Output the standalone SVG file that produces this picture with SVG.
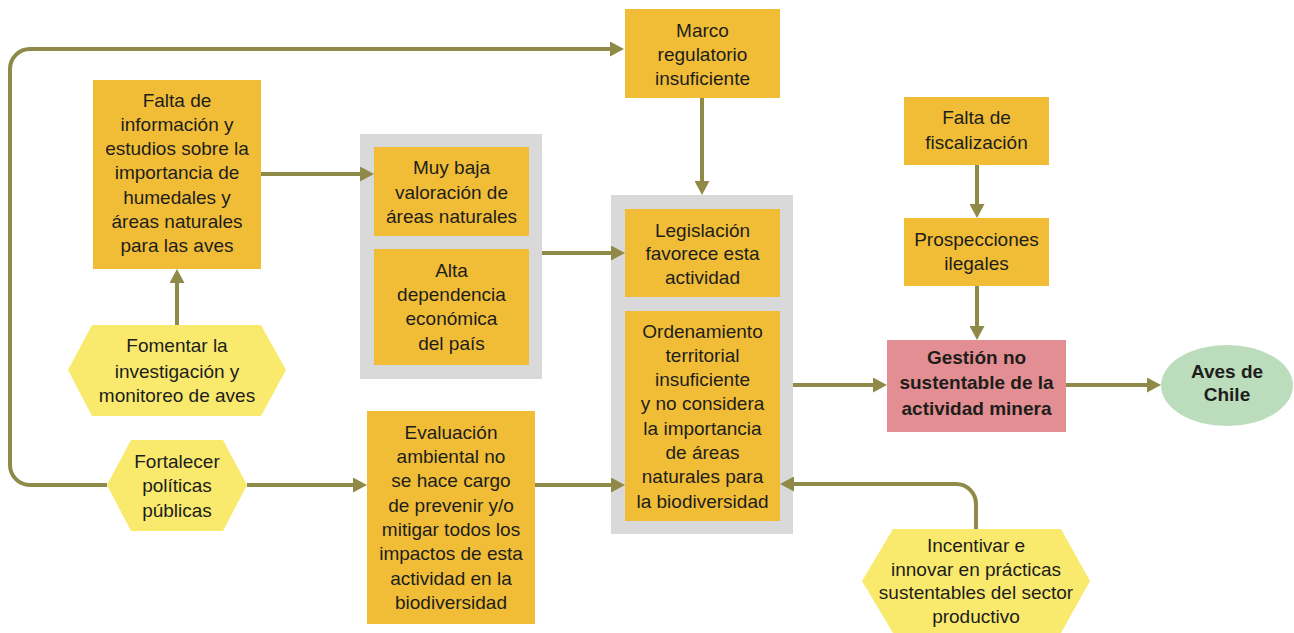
<svg xmlns="http://www.w3.org/2000/svg" width="1294" height="633" viewBox="0 0 1294 633">
<defs>
<marker id="ah" markerWidth="14" markerHeight="15" refX="2" refY="7.5" orient="auto" markerUnits="userSpaceOnUse"><path d="M0,0 L14,7.5 L0,15 z" fill="#8F8A48"/></marker>
<style>
.box{fill:#F1BD37}
.grp{fill:#D9D9D9}
.hex{fill:#F9EA6E}
.t{font-family:"Liberation Sans",Arial,sans-serif;font-size:19px;fill:#1D1D1B;text-anchor:middle}
.b{font-weight:bold}
.c{fill:none;stroke:#8F8A48;stroke-width:4;marker-end:url(#ah)}
</style>
</defs>
<rect width="1294" height="633" fill="#fff"/>
<g id="groupA"><rect class="grp" x="360" y="134" width="182" height="245"/></g>
<g id="groupB"><rect class="grp" x="611" y="195" width="182" height="339"/></g>
<g id="connectors">
<path class="c" d="M107,485 H30 A20,20 0 0 1 10,465 V69 A20,20 0 0 1 30,49 H612"/>
<path class="c" d="M261,174 H362"/>
<path class="c" d="M177,325 V281"/>
<path class="c" d="M542,253 H613"/>
<path class="c" d="M247,485 H355"/>
<path class="c" d="M535,485 H613"/>
<path class="c" d="M702,98 V183"/>
<path class="c" d="M976,529 V504 A20,20 0 0 0 956,484 H792"/>
<path class="c" d="M977,165 V206"/>
<path class="c" d="M977,286 V328"/>
<path class="c" d="M793,385 H875"/>
<path class="c" d="M1066,385 H1149"/>
</g>
<g id="marco"><rect class="box" x="625" y="9" width="155" height="89"/>
<text class="t"><tspan x="702.5" y="37">Marco</tspan><tspan x="702.5" y="61">regulatorio</tspan><tspan x="702.5" y="85">insuficiente</tspan></text></g>
<g id="falta-info"><rect class="box" x="93" y="80" width="168" height="189"/>
<text class="t"><tspan x="177" y="107">Falta de</tspan><tspan x="177" y="131">información y</tspan><tspan x="177" y="155">estudios sobre la</tspan><tspan x="177" y="179">importancia de</tspan><tspan x="177" y="204">humedales y</tspan><tspan x="177" y="228">áreas naturales</tspan><tspan x="177" y="252">para las aves</tspan></text></g>
<g id="muy-baja"><rect class="box" x="374" y="147" width="155" height="89"/>
<text class="t"><tspan x="451.5" y="174">Muy baja</tspan><tspan x="451.5" y="199">valoración de</tspan><tspan x="451.5" y="223">áreas naturales</tspan></text></g>
<g id="alta"><rect class="box" x="374" y="249" width="155" height="116"/>
<text class="t"><tspan x="451.5" y="277">Alta</tspan><tspan x="451.5" y="301">dependencia</tspan><tspan x="451.5" y="325">económica</tspan><tspan x="451.5" y="350">del país</tspan></text></g>
<g id="legislacion"><rect class="box" x="625" y="209" width="155" height="88"/>
<text class="t"><tspan x="702.5" y="237">Legislación</tspan><tspan x="702.5" y="260">favorece esta</tspan><tspan x="702.5" y="284">actividad</tspan></text></g>
<g id="ordenamiento"><rect class="box" x="625" y="311" width="155" height="210"/>
<text class="t"><tspan x="702.5" y="338">Ordenamiento</tspan><tspan x="702.5" y="362">territorial</tspan><tspan x="702.5" y="386">insuficiente</tspan><tspan x="702.5" y="410">y no considera</tspan><tspan x="702.5" y="435">la importancia</tspan><tspan x="702.5" y="459">de áreas</tspan><tspan x="702.5" y="483">naturales para</tspan><tspan x="702.5" y="508">la biodiversidad</tspan></text></g>
<g id="fiscalizacion"><rect class="box" x="904" y="97" width="145" height="68"/>
<text class="t"><tspan x="976.5" y="124">Falta de</tspan><tspan x="976.5" y="149">fiscalización</tspan></text></g>
<g id="prospecciones"><rect class="box" x="904" y="218" width="145" height="68"/>
<text class="t"><tspan x="976.5" y="246">Prospecciones</tspan><tspan x="976.5" y="270">ilegales</tspan></text></g>
<g id="gestion"><rect x="887" y="340" width="179" height="92" fill="#E38E92"/>
<text class="t b"><tspan x="976.5" y="364">Gestión no</tspan><tspan x="976.5" y="389">sustentable de la</tspan><tspan x="976.5" y="415">actividad minera</tspan></text></g>
<g id="aves"><ellipse cx="1227" cy="385.5" rx="66" ry="40.5" fill="#BCDDBB"/>
<text class="t b"><tspan x="1227" y="378">Aves de</tspan><tspan x="1227" y="401">Chile</tspan></text></g>
<g id="fomentar"><polygon class="hex" points="68,370 92,325 261,325 286,370 261,416 92,416"/>
<text class="t"><tspan x="177" y="352">Fomentar la</tspan><tspan x="177" y="378">investigación y</tspan><tspan x="177" y="402">monitoreo de aves</tspan></text></g>
<g id="fortalecer"><polygon class="hex" points="107,485 131,440 223,440 247,485 223,531 131,531"/>
<text class="t"><tspan x="177" y="468">Fortalecer</tspan><tspan x="177" y="492">políticas</tspan><tspan x="177" y="517">públicas</tspan></text></g>
<g id="evaluacion"><rect class="box" x="367" y="411" width="168" height="213"/>
<text class="t"><tspan x="451" y="439">Evaluación</tspan><tspan x="451" y="463">ambiental no</tspan><tspan x="451" y="487">se hace cargo</tspan><tspan x="451" y="512">de prevenir y/o</tspan><tspan x="451" y="536">mitigar todos los</tspan><tspan x="451" y="560">impactos de esta</tspan><tspan x="451" y="585">actividad en la</tspan><tspan x="451" y="609">biodiversidad</tspan></text></g>
<g id="incentivar"><polygon class="hex" points="862,581 893,529 1061,529 1090,581 1061,633 893,633"/>
<text class="t"><tspan x="976" y="552">Incentivar e</tspan><tspan x="976" y="576">innovar en prácticas</tspan><tspan x="976" y="599">sustentables del sector</tspan><tspan x="976" y="623">productivo</tspan></text></g>
</svg>
